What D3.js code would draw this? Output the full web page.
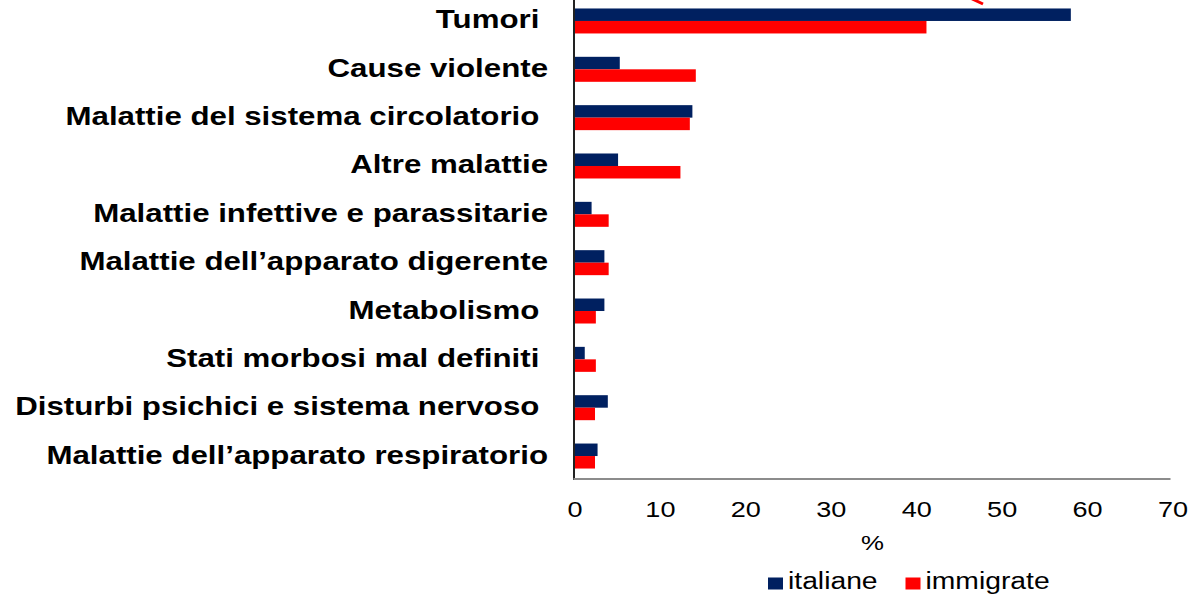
<!DOCTYPE html>
<html lang="it">
<head>
    <meta charset="UTF-8">
    <title>Cause di morte: italiane e immigrate</title>
    <script src="https://d3js.org/d3.v7.min.js"></script>
    <style>
        body { margin: 0; background: #fff; }
        text { font-family: "Liberation Sans", Arial, sans-serif; fill: #000; }
        .cat text { font-weight: bold; font-size: 25px; white-space: pre; }
        .xax text { font-size: 22px; }
    </style>
</head>
<body>
    <div id="chart"></div>
    <script>
        // categories (top to bottom), trailing spaces as in the original labels
        const categories = [
            "Tumori ",
            "Cause violente",
            "Malattie del sistema circolatorio ",
            "Altre malattie",
            "Malattie infettive e parassitarie",
            "Malattie dell\u2019apparato digerente",
            "Metabolismo ",
            "Stati morbosi mal definiti ",
            "Disturbi psichici e sistema nervoso ",
            "Malattie dell\u2019apparato respiratorio"
        ];
        const italiane  = [58.1, 5.3, 13.8, 5.1, 2.0, 3.5, 3.5, 1.2, 3.9, 2.7];
        const immigrate = [41.2, 14.2, 13.5, 12.4, 4.0, 4.0, 2.5, 2.5, 2.4, 2.4];
        const seriesNames = ["italiane", "immigrate"];
        const xTicks = [0, 10, 20, 30, 40, 50, 60, 70];

        const width = 1201, height = 594;
        const colors = { italiane: "#002060", immigrate: "#ff0000" };
        const stretch = 1.23;     // the original text is widened horizontally
        const catStretch = 1.25;

        const svg = d3.select("#chart").append("svg")
            .attr("width", width)
            .attr("height", height);

        const x = d3.scaleLinear().domain([0, 70]).range([574.5, 1172.5]);
        const y = d3.scaleBand().domain(categories)
            .range([-3.2, 480.2])
            .paddingInner(0.483)
            .paddingOuter(0.2415);
        const ys = d3.scaleBand().domain(seriesNames).range([0, y.bandwidth()]);

        const rows = categories.map((c, i) => ({ cat: c, italiane: italiane[i], immigrate: immigrate[i] }));

        // bars
        const groups = svg.append("g").selectAll("g")
            .data(rows)
            .join("g")
            .attr("transform", d => `translate(0,${y(d.cat)})`);

        groups.selectAll("rect")
            .data(d => seriesNames.map(s => ({ s, v: d[s] })))
            .join("rect")
            .attr("x", x(0))
            .attr("y", d => ys(d.s))
            .attr("width", d => x(d.v) - x(0))
            .attr("height", ys.bandwidth())
            .attr("fill", d => colors[d.s]);

        // category axis
        const yAxis = svg.append("g")
            .attr("class", "cat")
            .attr("transform", `translate(${x(0)},0)`)
            .call(d3.axisLeft(y).tickSize(0).tickPadding(0));
        yAxis.select(".domain").remove();
        yAxis.selectAll("text")
            .attr("x", -26.5 / catStretch)
            .attr("dy", "0.3em")
            .attr("transform", `scale(${catStretch},1)`);

        svg.append("line")
            .attr("x1", x(0) - 0.5).attr("x2", x(0) - 0.5)
            .attr("y1", 0).attr("y2", 480)
            .attr("stroke", "#222").attr("stroke-width", 2);

        // value axis
        svg.append("line")
            .attr("x1", x(0) - 1).attr("x2", x(70) - 2)
            .attr("y1", 479).attr("y2", 479)
            .attr("stroke", "#8c8c8c").attr("stroke-width", 2);

        const xAxis = svg.append("g")
            .attr("class", "xax")
            .attr("transform", "translate(0,517)")
            .call(d3.axisBottom(x).tickValues(xTicks).tickSize(0).tickPadding(0));
        xAxis.select(".domain").remove();
        xAxis.selectAll("text")
            .attr("x", 0).attr("y", 0).attr("dy", 0)
            .attr("transform", `scale(${stretch},1)`);

        svg.append("text")
            .attr("transform", `translate(872.5,550) scale(${stretch},1)`)
            .attr("text-anchor", "middle")
            .style("font-size", "21px")
            .text("%");

        // legend
        const legendItems = [
            { s: "italiane", x: 768 },
            { s: "immigrate", x: 905.5 }
        ];
        const legend = svg.append("g").selectAll("g")
            .data(legendItems)
            .join("g")
            .attr("transform", d => `translate(${d.x},577.5)`);
        legend.append("rect")
            .attr("width", 15).attr("height", 12)
            .attr("fill", d => colors[d.s]);
        legend.append("text")
            .attr("transform", `translate(20,11.5) scale(${stretch},1)`)
            .style("font-size", "23px")
            .text(d => d.s);

        // tip of an annotation arrow cut off at the top edge
        svg.append("line")
            .attr("x1", 966).attr("y1", -4)
            .attr("x2", 983).attr("y2", 4)
            .attr("stroke", "#ff0000").attr("stroke-width", 3);
    </script>
</body>
</html>
